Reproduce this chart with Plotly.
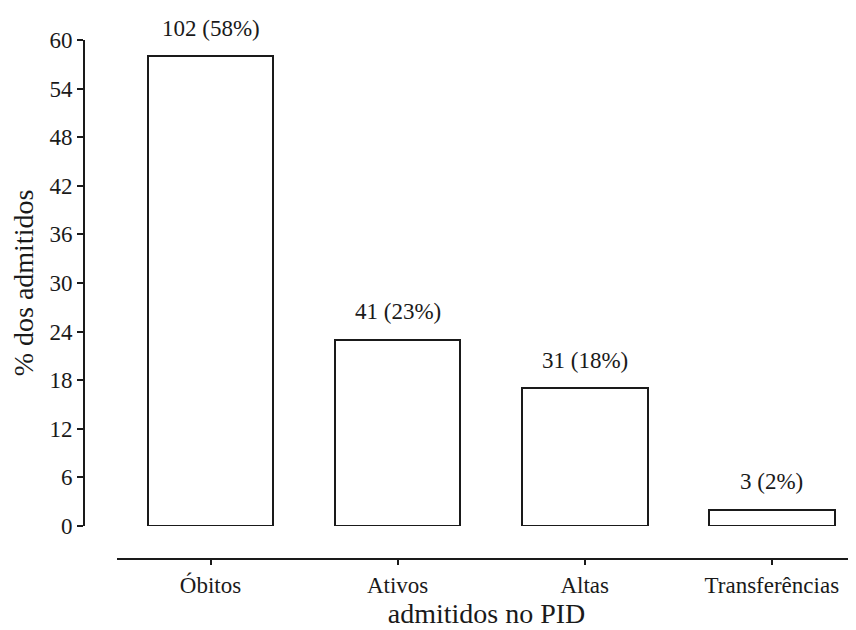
import plotly.graph_objects as go

categories = ["Óbitos", "Ativos", "Altas", "Transferências"]
percentages = [58, 23, 17, 2]
counts = [102, 41, 31, 3]
pct_labels = ["58%", "23%", "18%", "2%"]
y_ticks = [0, 6, 12, 18, 24, 30, 36, 42, 48, 54, 60]

# page body has an 8px margin, so the figure is 8px smaller and everything shifted
W, H = 848, 622
left, right, top, bottom = 76, 0, 32, 71
plot_w = W - left - right
plot_h = H - top - bottom
serif = "Liberation Serif, Times New Roman, Times, serif"

fig = go.Figure()
fig.add_trace(go.Bar(
    x=categories, y=percentages,
    width=0.672,
    marker=dict(color="white", line=dict(color="#1a1a1a", width=2)),
))

for c, v, n, p in zip(categories, percentages, counts, pct_labels):
    fig.add_annotation(x=c, y=v, text=f"{n} ({p})", showarrow=False,
                       yanchor="middle", yshift=28,
                       font=dict(family=serif, size=23, color="#1a1a1a"))

fig.update_layout(
    width=W, height=H,
    margin=dict(l=left, r=right, t=top, b=bottom),
    plot_bgcolor="white", paper_bgcolor="white",
    font=dict(family=serif, size=23, color="#1a1a1a"),
    showlegend=False,
    bargap=0,
    xaxis=dict(
        domain=[(109 - left) / plot_w, 1],
        range=[-0.5, 3.45],
        anchor="free", position=0,
        automargin=False,
        showline=True, linecolor="#1a1a1a", linewidth=2,
        ticks="outside", ticklen=5, tickwidth=2, tickcolor="#1a1a1a",
        tickfont=dict(family=serif, size=23),
        showgrid=False, zeroline=False,
        title=dict(text="admitidos no PID", font=dict(family=serif, size=28), standoff=3),
    ),
    yaxis=dict(
        domain=[33 / plot_h, 1],
        range=[0, 60],
        tickvals=y_ticks,
        anchor="free", position=0,
        automargin=False,
        showline=True, linecolor="#1a1a1a", linewidth=2,
        ticks="outside", ticklen=6, tickwidth=2, tickcolor="#1a1a1a",
        tickfont=dict(family=serif, size=23),
        showgrid=False, zeroline=False,
        title=dict(text="% dos admitidos", font=dict(family=serif, size=28), standoff=7),
    ),
)

fig.write_html("out.html")
